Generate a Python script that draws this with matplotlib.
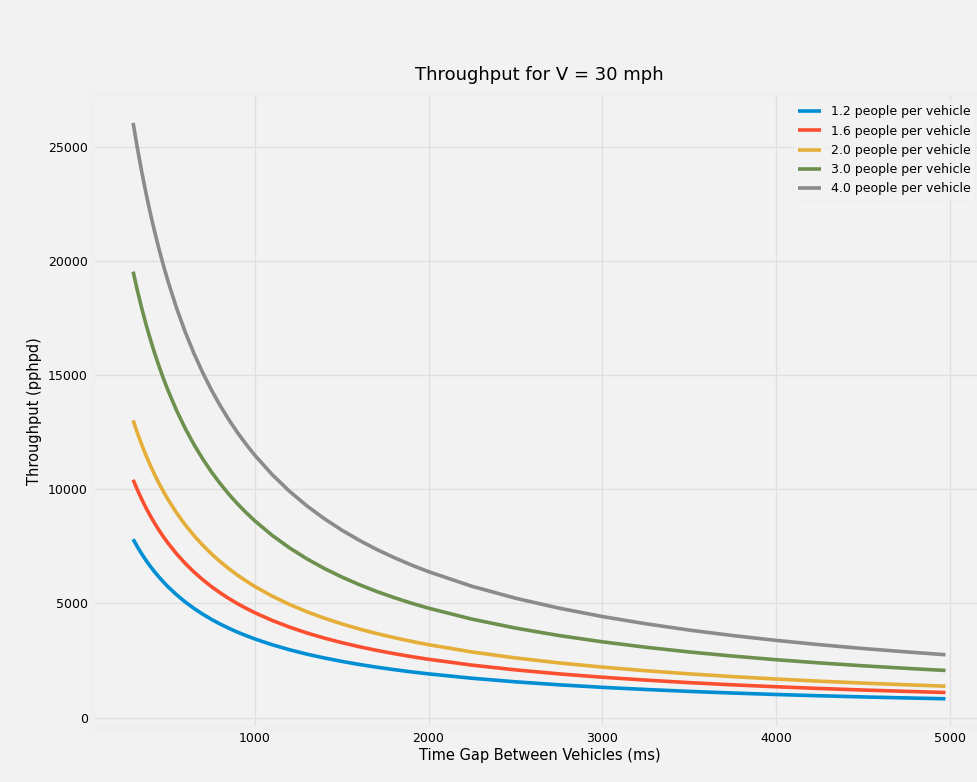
import matplotlib
matplotlib.use("Agg")
import matplotlib.pyplot as plt

# Time gap between vehicles (ms)
gap_ms = [300, 325, 350, 375, 400, 425, 450, 475, 500, 550, 600, 650, 700,
          750, 800, 850, 900, 950, 1000, 1100, 1200, 1300, 1400, 1500, 1600,
          1700, 1800, 1900, 2000, 2250, 2500, 2750, 3000, 3250, 3500, 3750,
          4000, 4250, 4500, 4750, 4975]

# Throughput (pphpd) for each occupancy
tp_12 = [7812, 7474, 7164, 6878, 6616, 6372, 6145, 5934, 5737, 5380, 5064,
         4784, 4534, 4307, 4103, 3917, 3746, 3592, 3448, 3193, 2974, 2782,
         2614, 2465, 2332, 2212, 2105, 2006, 1918, 1726, 1570, 1439, 1328,
         1234, 1151, 1079, 1015, 959, 908, 864, 827]
tp_16 = [10416, 9965, 9552, 9171, 8821, 8496, 8194, 7912, 7650, 7173, 6752,
         6379, 6045, 5742, 5470, 5222, 4995, 4789, 4597, 4258, 3965, 3709,
         3485, 3286, 3109, 2949, 2806, 2675, 2557, 2301, 2093, 1918, 1771,
         1645, 1534, 1438, 1354, 1278, 1211, 1152, 1102]
tp_20 = [13020, 12456, 11940, 11464, 11026, 10620, 10242, 9890, 9562, 8966,
         8440, 7974, 7556, 7178, 6838, 6528, 6244, 5986, 5746, 5322, 4956,
         4636, 4356, 4108, 3886, 3686, 3508, 3344, 3196, 2876, 2616, 2398,
         2214, 2056, 1918, 1798, 1692, 1598, 1514, 1440, 1378]
tp_30 = [19530, 18684, 17910, 17196, 16539, 15930, 15363, 14835, 14343, 13449,
         12660, 11961, 11334, 10767, 10257, 9792, 9366, 8979, 8619, 7983, 7434,
         6954, 6534, 6162, 5829, 5529, 5262, 5016, 4794, 4314, 3924, 3597,
         3321, 3084, 2877, 2697, 2538, 2397, 2271, 2160, 2067]
tp_40 = [26040, 24912, 23880, 22928, 22052, 21240, 20484, 19780, 19124, 17932,
         16880, 15948, 15112, 14356, 13676, 13056, 12488, 11972, 11492, 10644,
         9912, 9272, 8712, 8216, 7772, 7372, 7016, 6688, 6392, 5752, 5232,
         4796, 4428, 4112, 3836, 3596, 3384, 3196, 3028, 2880, 2756]

labels = ["1.2 people per vehicle", "1.6 people per vehicle",
          "2.0 people per vehicle", "3.0 people per vehicle",
          "4.0 people per vehicle"]
series = [tp_12, tp_16, tp_20, tp_30, tp_40]

plt.style.use("fivethirtyeight")
plt.rcParams['font.family'] = ['DejaVu Sans']

fig = plt.figure(figsize=(9.78, 7.82), dpi=100)
fig.patch.set_facecolor("#f2f2f2")
ax = fig.add_axes([0.0946, 0.0696, 0.9137, 0.81])
ax.set_facecolor("#f2f2f2")

for vals, lab in zip(series, labels):
    ax.plot(gap_ms, vals, linewidth=2.6, label=lab)

ax.set_title("Throughput for V = 30 mph", fontsize=13, pad=10)
ax.set_xlabel("Time Gap Between Vehicles (ms)", fontsize=10.5, labelpad=2)
ax.set_ylabel("Throughput (pphpd)", fontsize=10.5)
ax.tick_params(labelsize=9)
ax.set_xticks([1000, 2000, 3000, 4000, 5000])
ax.set_yticks([0, 5000, 10000, 15000, 20000, 25000])
ax.grid(color="#e0e0e0", linewidth=1)

leg = ax.legend(loc="upper right", fontsize=9, frameon=True,
                bbox_to_anchor=(0.995, 1.0), handlelength=1.8)
leg.get_frame().set_facecolor("#f2f2f2")
leg.get_frame().set_edgecolor("#ebebeb")

fig.savefig("out.png", dpi=100, facecolor=fig.get_facecolor())
